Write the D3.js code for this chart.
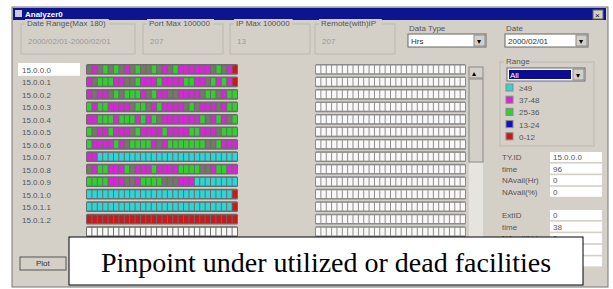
<!DOCTYPE html>
<meta charset="utf-8">
<style>
body { margin: 0; background: #fff; }
svg { display: block; }
text { font-family: "Liberation Sans", "DejaVu Sans", sans-serif; font-size: 8px; fill: #555; }
.val { fill: #9a9a9a; }
.title { fill: #fff; font-weight: bold; font-size: 8px; }
.caption { font-family: "Liberation Serif", "Times New Roman", serif; font-size: 28px; fill: #000; }
</style>
<body>
<svg width="613" height="289"></svg>
<script src="https://d3js.org/d3.v7.min.js"></script>
<script>

// host rows shown in the list box
var hosts = ["15.0.0.0", "15.0.0.1", "15.0.0.2", "15.0.0.3", "15.0.0.4", "15.0.0.5", "15.0.0.6",
             "15.0.0.7", "15.0.0.8", "15.0.0.9", "15.0.1.0", "15.0.1.1", "15.0.1.2", ""];

// utilisation level of each hourly cell, one string per host
// C >=49, M 37-48, G 25-36, B 13-24, R 0-12, K no data, W empty
var cells = [
  "KMKGKGKMKGKKGKMKGMMMMMMKGKMR",
  "MKGGGMMKKGMMMGMMMMGGMMKGMGMR",
  "MKMMKGKGGGMKGMMKKMMMMKGGKMGG",
  "GMGGMMMMKGGKMGMMMMKGKMMMKMGG",
  "MMGGGMGGGMGMGKMMMMMMMGKMGMKG",
  "GKMMGMMMKGMMMMGMMMMGGMMMKGGG",
  "GMMMMGMKGGGGMKMGGGGGGGKKGMMM",
  "MMCCCCCCCCCCCCCCCCCCCCCCCCCC",
  "KMGGMMMGKMMMGMMMMGGGGKKMGGMM",
  "GGGGMMMKKMGGGGKKKMMMCCCCCCCC",
  "CCCCCCCCCCCCCCCCCCCCCCCCCCCR",
  "CCCCCCCCCCCCCCCCCCCCCCCCCCCR",
  "RRRRRRRRRRRRRRRRRRRRRRRRRRRR",
  "WWWWWWWWWWWWWWWWWWWWWWWWWWWW"
];

var levelCodes  = ["C", "M", "G", "B", "R", "K", "W"];
var levelLabels = ["\u226549", "37-48", "25-36", "13-24", "0-12"];

var svg = d3.select("svg");
var hours = d3.range(cells[0].length);

var color = d3.scaleOrdinal()
    .domain(levelCodes)
    .range(["#2ad6d6", "#d627d6", "#2fd12f", "#1010c0", "#c81a1a", "#76766a", "#f8f8f8"]);

// window
svg.append("rect").attr("x", 12).attr("y", 7).attr("width", 596).attr("height", 280)
    .attr("fill", "#d4d0c8").attr("stroke", "#777");
svg.append("rect").attr("x", 13).attr("y", 8).attr("width", 593).attr("height", 12).attr("fill", "#0c1490");
svg.append("rect").attr("x", 15).attr("y", 10).attr("width", 7).attr("height", 7).attr("fill", "#c8c8e8");
svg.append("text").attr("class", "title").attr("x", 25).attr("y", 17).text("Analyzer0");
svg.append("rect").attr("x", 593).attr("y", 10).attr("width", 10).attr("height", 9)
    .attr("fill", "#d4d0c8").attr("stroke", "#666");
svg.append("text").attr("x", 595).attr("y", 18).style("fill", "#000").text("\u00d7");

function groupBox(x, y, w, h, label) {
  svg.append("rect").attr("x", x).attr("y", y).attr("width", w).attr("height", h)
      .attr("fill", "none").attr("stroke", "#bcb8b0");
  svg.append("rect").attr("x", x + 4).attr("y", y - 5).attr("width", label.length * 4.2 + 4).attr("height", 9)
      .attr("fill", "#d4d0c8");
  svg.append("text").attr("x", x + 6).attr("y", y + 2).text(label);
}
groupBox(21, 24, 114, 30, "Date Range(Max 180)");
svg.append("text").attr("class", "val").attr("x", 28).attr("y", 44).text("2000/02/01-2000/02/01");
groupBox(143, 24, 80, 30, "Port Max 100000");
svg.append("text").attr("class", "val").attr("x", 150).attr("y", 44).text("207");
groupBox(230, 24, 80, 30, "IP Max 100000");
svg.append("text").attr("class", "val").attr("x", 237).attr("y", 44).text("13");
groupBox(315, 24, 80, 30, "Remote(with)IP");
svg.append("text").attr("class", "val").attr("x", 322).attr("y", 44).text("207");

function combo(x, y, w, label, value, sel) {
  if (label) svg.append("text").attr("x", x + 1).attr("y", y - 3).text(label);
  svg.append("rect").attr("x", x).attr("y", y).attr("width", w).attr("height", 13)
      .attr("fill", "#fff").attr("stroke", "#666");
  if (sel) svg.append("rect").attr("x", x + 2).attr("y", y + 2).attr("width", w - 16).attr("height", 9).attr("fill", "#0c0c90");
  svg.append("rect").attr("x", x + w - 12).attr("y", y + 1).attr("width", 11).attr("height", 11)
      .attr("fill", "#d4d0c8").attr("stroke", "#888");
  svg.append("text").attr("x", x + w - 9).attr("y", y + 10).style("fill", "#000").text("\u25be");
  svg.append("text").attr("x", x + 3).attr("y", y + 10).style("fill", sel ? "#fff" : "#333").text(value);
}
combo(408, 34, 78, "Data Type", "Hrs", false);
combo(505, 34, 83, "Date", "2000/02/01", false);

groupBox(500, 62, 94, 84, "Range");
combo(507, 68, 78, null, "All", true);

// legend
var legend = svg.append("g").selectAll("g").data(levelLabels).enter().append("g")
    .attr("transform", function(d, i) { return "translate(506," + (84 + i * 12.2) + ")"; });
legend.append("rect").attr("width", 7).attr("height", 7)
    .attr("fill", function(d, i) { return color(levelCodes[i]); }).attr("stroke", "#888");
legend.append("text").attr("x", 13).attr("y", 7).text(function(d) { return d; });

// info fields
var infoLabels = ["TY.ID", "time", "NAvail(Hr)", "NAvail(%)", "", "ExtID", "time", "NAvail(Hr)", "", ""];
var infoValues = ["15.0.0.0", "96", "0", "0", "", "0", "38", "0", "", ""];
infoLabels.forEach(function(l, i) {
  var y = 152 + i * 11.6;
  if (i === 4) return;
  svg.append("text").attr("x", 502).attr("y", y + 8).text(l);
  svg.append("rect").attr("x", 550).attr("y", y).attr("width", 52).attr("height", 10).attr("fill", "#fff");
  svg.append("text").attr("x", 553).attr("y", y + 8).text(infoValues[i]);
});

// host list
var y = d3.scaleBand().domain(d3.range(hosts.length)).range([65, 236]).paddingInner(0.3);
svg.append("rect").attr("x", 18).attr("y", y(0) - 2).attr("width", 62).attr("height", y.bandwidth() + 4).attr("fill", "#fff");
svg.append("g").selectAll("text").data(hosts).enter().append("text")
    .attr("x", 22).attr("y", function(d, i) { return y(i) + y.bandwidth() - 1; })
    .text(function(d) { return d; });

// utilisation strips
var x = d3.scaleBand().domain(hours).range([87, 237]).paddingInner(0.18);
var strips = svg.append("g").selectAll("g").data(cells).enter().append("g")
    .attr("transform", function(d, i) { return "translate(0," + y(i) + ")"; });
strips.append("rect").attr("x", 86).attr("y", -1).attr("width", 152).attr("height", y.bandwidth() + 2)
    .attr("fill", "#6a6a6a").attr("rx", 1.5);
strips.selectAll("rect.c").data(function(d) { return d.split(""); }).enter().append("rect")
    .attr("class", "c")
    .attr("x", function(d, i) { return x(i); }).attr("y", 0.5)
    .attr("width", x.bandwidth()).attr("height", y.bandwidth() - 1)
    .attr("fill", function(d) { return color(d); });

// second (empty) strip panel
var x2 = d3.scaleBand().domain(hours).range([316, 465]).paddingInner(0.18);
var strips2 = svg.append("g").selectAll("g").data(hosts).enter().append("g")
    .attr("transform", function(d, i) { return "translate(0," + y(i) + ")"; });
strips2.append("rect").attr("x", 315).attr("y", -1).attr("width", 151).attr("height", y.bandwidth() + 2)
    .attr("fill", "#8a8a8a").attr("rx", 1.5);
strips2.selectAll("rect.c").data(hours).enter().append("rect")
    .attr("class", "c")
    .attr("x", function(d) { return x2(d); }).attr("y", 0.5)
    .attr("width", x2.bandwidth()).attr("height", y.bandwidth() - 1)
    .attr("fill", color("W"));

// scrollbar
svg.append("rect").attr("x", 469).attr("y", 67).attr("width", 14).attr("height", 170).attr("fill", "#e6e4de");
svg.append("rect").attr("x", 469).attr("y", 67).attr("width", 14).attr("height", 11).attr("fill", "#d4d0c8").attr("stroke", "#888");
svg.append("text").attr("x", 472).attr("y", 76).style("fill", "#000").text("\u25b4");
svg.append("rect").attr("x", 469).attr("y", 79).attr("width", 14).attr("height", 83).attr("fill", "#d4d0c8").attr("stroke", "#888");

// plot button
svg.append("rect").attr("x", 20).attr("y", 257).attr("width", 46).attr("height", 13)
    .attr("fill", "#d4d0c8").attr("stroke", "#555");
svg.append("text").attr("x", 36).attr("y", 266).style("fill", "#333").text("Plot");

// caption overlay
svg.append("rect").attr("x", 69).attr("y", 237).attr("width", 514).attr("height", 48)
    .attr("fill", "#fff").attr("stroke", "#000");
svg.append("text").attr("class", "caption").attr("x", 326).attr("y", 272)
    .attr("text-anchor", "middle").text("Pinpoint under utilized or dead facilities");

</script>
